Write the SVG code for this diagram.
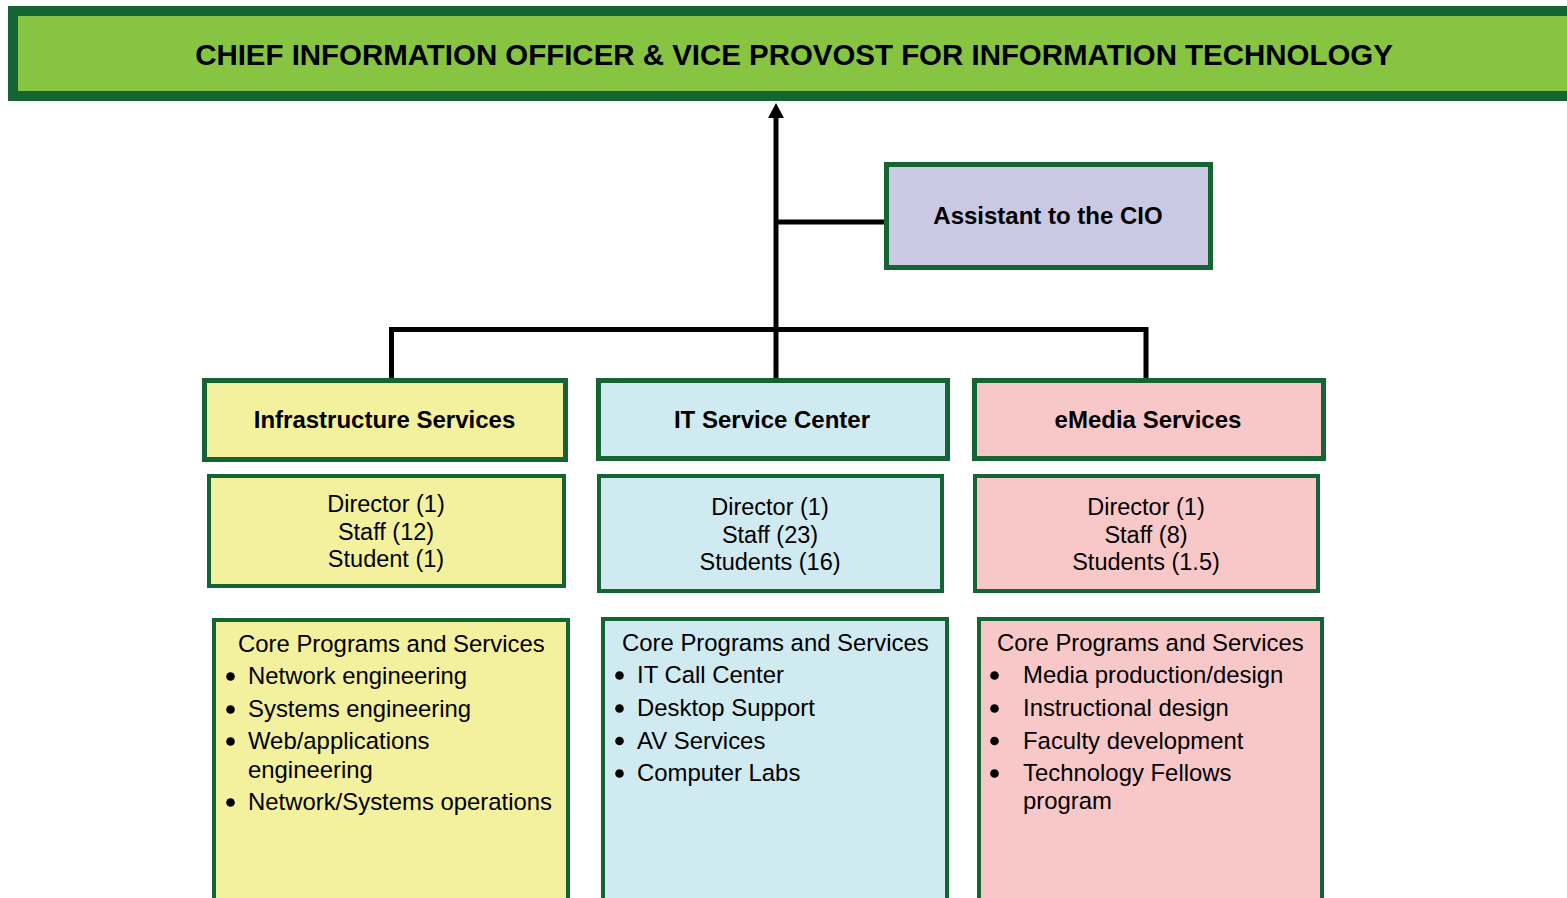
<svg xmlns="http://www.w3.org/2000/svg" width="1567" height="898" viewBox="0 0 1567 898">
<style>
text{font-family:"Liberation Sans",Arial,Helvetica,sans-serif;fill:#000}
.b{font-weight:bold;font-size:24px;text-anchor:middle}
.c{font-size:23.5px;text-anchor:middle}
.l{font-size:23.9px}
.bd5{stroke:#146434;stroke-width:5}
.bd4{stroke:#146434;stroke-width:4}
.y{fill:#F3F09E}.u{fill:#CFEAF0}.p{fill:#F8C8C9}
.con{fill:none;stroke:#000;stroke-width:5}
</style>
<defs>
<marker id="ah" markerUnits="userSpaceOnUse" markerWidth="15" markerHeight="16" viewBox="0 0 15 16" refX="0" refY="8" orient="auto">
<path d="M0,0 L15,8 L0,16 Z" fill="#000"/>
</marker>
</defs>
<rect width="1567" height="898" fill="#fff"/>

<g id="connectors">
<path class="con" d="M776,378 V118" marker-end="url(#ah)"/>
<path class="con" d="M776,222 H885"/>
<path class="con" d="M391.5,378 V329.5 H1146 V378"/>
</g>

<g id="cio">
<rect x="13" y="11" width="1570" height="85" fill="#86C441" stroke="#146434" stroke-width="10"/>
<text x="794" y="65" font-weight="bold" font-size="29.45" text-anchor="middle">CHIEF INFORMATION OFFICER &amp; VICE PROVOST FOR INFORMATION TECHNOLOGY</text>
</g>

<g id="assistant">
<rect x="886.5" y="164.5" width="324" height="103" fill="#CBC8E3" class="bd5"/>
<text class="b" x="1048" y="224">Assistant to the CIO</text>
</g>

<g id="infra">
<rect x="204.5" y="380.5" width="361" height="79" class="y bd5"/>
<text class="b" x="384.5" y="428">Infrastructure Services</text>
</g>
<g id="infra-staff">
<rect x="209" y="476" width="355" height="110" class="y bd4"/>
<text class="c" x="386" y="512">Director (1)</text>
<text class="c" x="386" y="539.5">Staff (12)</text>
<text class="c" x="386" y="567">Student (1)</text>
</g>
<g id="infra-core">
<rect x="214" y="620" width="354" height="290" class="y bd4"/>
<text class="l" x="238" y="652">Core Programs and Services</text>
<circle cx="230.5" cy="676.5" r="4.3"/>
<text class="l" x="248" y="684">Network engineering</text>
<circle cx="230.5" cy="709.5" r="4.3"/>
<text class="l" x="248" y="717">Systems engineering</text>
<circle cx="230.5" cy="741.5" r="4.3"/>
<text class="l" x="248" y="749">Web/applications</text>
<text class="l" x="248" y="778">engineering</text>
<circle cx="230.5" cy="802.5" r="4.3"/>
<text class="l" x="248" y="810">Network/Systems operations</text>
</g>

<g id="itsc">
<rect x="598.5" y="380.5" width="349" height="78" class="u bd5"/>
<text class="b" x="772" y="428">IT Service Center</text>
</g>
<g id="itsc-staff">
<rect x="599" y="476" width="343" height="115" class="u bd4"/>
<text class="c" x="770" y="515">Director (1)</text>
<text class="c" x="770" y="542.5">Staff (23)</text>
<text class="c" x="770" y="570">Students (16)</text>
</g>
<g id="itsc-core">
<rect x="603" y="619" width="344" height="290" class="u bd4"/>
<text class="l" x="622" y="651">Core Programs and Services</text>
<circle cx="619.5" cy="675.5" r="4.3"/>
<text class="l" x="637" y="683">IT Call Center</text>
<circle cx="619.5" cy="708.5" r="4.3"/>
<text class="l" x="637" y="716">Desktop Support</text>
<circle cx="619.5" cy="741" r="4.3"/>
<text class="l" x="637" y="748.5">AV Services</text>
<circle cx="619.5" cy="773.5" r="4.3"/>
<text class="l" x="637" y="781">Computer Labs</text>
</g>

<g id="emedia">
<rect x="974.5" y="380.5" width="349" height="78" class="p bd5"/>
<text class="b" x="1148" y="428">eMedia Services</text>
</g>
<g id="emedia-staff">
<rect x="975" y="476" width="343" height="115" class="p bd4"/>
<text class="c" x="1146" y="515">Director (1)</text>
<text class="c" x="1146" y="542.5">Staff (8)</text>
<text class="c" x="1146" y="570">Students (1.5)</text>
</g>
<g id="emedia-core">
<rect x="979" y="619" width="343" height="290" class="p bd4"/>
<text class="l" x="997" y="651">Core Programs and Services</text>
<circle cx="994.5" cy="675.5" r="4.3"/>
<text class="l" x="1023" y="683">Media production/design</text>
<circle cx="994.5" cy="708.5" r="4.3"/>
<text class="l" x="1023" y="716">Instructional design</text>
<circle cx="994.5" cy="741" r="4.3"/>
<text class="l" x="1023" y="748.5">Faculty development</text>
<circle cx="994.5" cy="773.5" r="4.3"/>
<text class="l" x="1023" y="781">Technology Fellows</text>
<text class="l" x="1023" y="809">program</text>
</g>
</svg>
